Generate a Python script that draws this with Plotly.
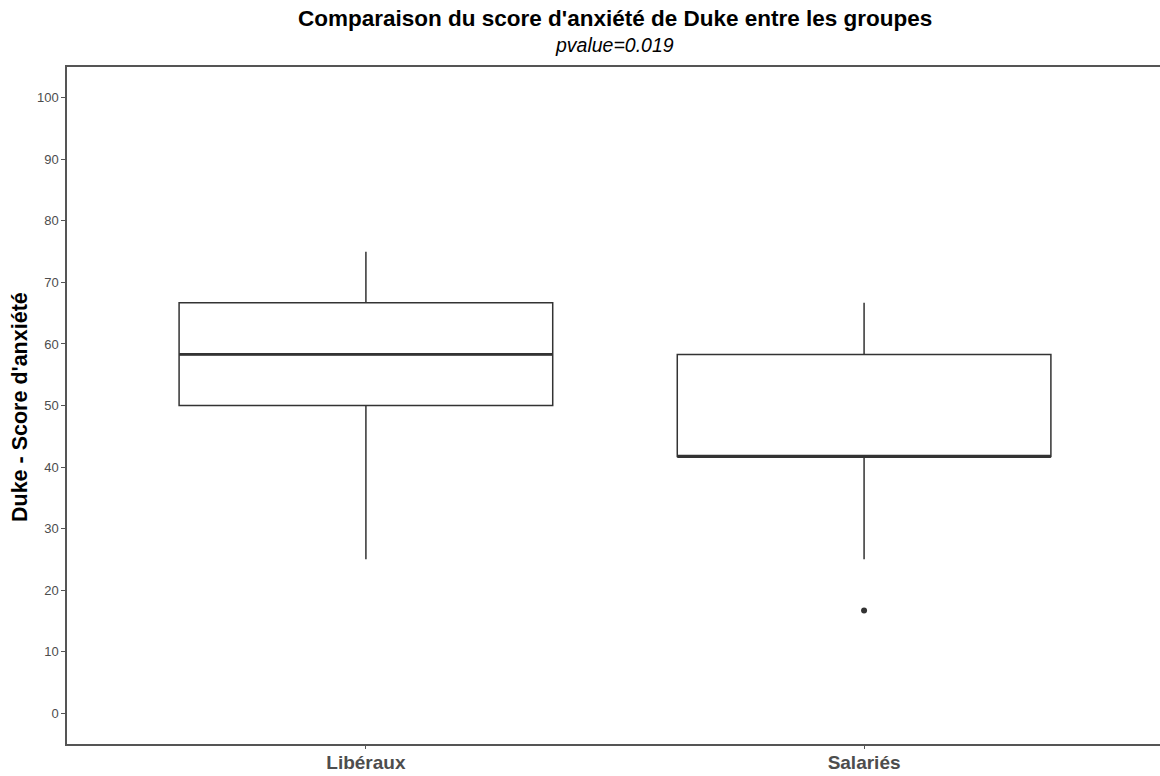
import plotly.graph_objects as go

# Group summary statistics (Duke anxiety score)
groups = ["Libéraux", "Salariés"]
lower_whisker = [25.0, 25.0]
q1 = [50.0, 41.7]
median = [58.3, 41.7]
q3 = [66.7, 58.3]
upper_whisker = [75.0, 66.7]
outlier_group = [1]
outlier_value = [16.7]

y_ticks = list(range(0, 101, 10))

box_width = 0.75
line_col = "#333333"
positions = list(range(len(groups)))

W, H = 1160, 776
ML, MR, MT, MB = 67, 0, 67, 32

fig = go.Figure()

for i, g in enumerate(groups):
    fig.add_trace(go.Box(
        x=[positions[i]],
        q1=[q1[i]], median=[median[i]], q3=[q3[i]],
        lowerfence=[lower_whisker[i]], upperfence=[upper_whisker[i]],
        width=box_width,
        whiskerwidth=0,
        fillcolor="white",
        line=dict(color=line_col, width=1.5),
        boxpoints=False,
        name=g,
        showlegend=False,
        hoverinfo="skip",
    ))
    # thicker median bar
    fig.add_trace(go.Scatter(
        x=[positions[i] - box_width / 2, positions[i] + box_width / 2],
        y=[median[i], median[i]],
        mode="lines",
        line=dict(color=line_col, width=2.8),
        showlegend=False,
        hoverinfo="skip",
    ))

fig.add_trace(go.Scatter(
    x=outlier_group, y=outlier_value,
    mode="markers",
    marker=dict(color=line_col, size=6),
    showlegend=False,
    hoverinfo="skip",
))

fig.update_layout(
    width=W, height=H,
    paper_bgcolor="white", plot_bgcolor="white",
    margin=dict(l=ML, r=MR, t=MT, b=MB),
    font=dict(family="Liberation Sans, Arial, sans-serif"),
)

plot_h = H - MT - MB
plot_w = W - ML - MR
def px_to_paper_x(px):
    return (px - ML) / plot_w
def px_to_paper_y(py):
    return (H - MB - py) / plot_h

fig.add_annotation(
    text="<b>Comparaison du score d'anxiété de Duke entre les groupes</b>",
    x=px_to_paper_x(615), y=px_to_paper_y(19), xref="paper", yref="paper",
    showarrow=False, xanchor="center", yanchor="middle",
    font=dict(size=22.5, color="black"),
)
fig.add_annotation(
    text="<i>pvalue=0.019</i>",
    x=px_to_paper_x(614), y=px_to_paper_y(45), xref="paper", yref="paper",
    showarrow=False, xanchor="center", yanchor="middle",
    font=dict(size=19.5, color="black"),
)
fig.add_annotation(
    text="<b>Duke - Score d'anxiété</b>",
    x=px_to_paper_x(20), y=px_to_paper_y(407), xref="paper", yref="paper",
    showarrow=False, xanchor="center", yanchor="middle", textangle=-90,
    font=dict(size=21.5, color="black"),
)

fig.update_xaxes(
    range=[-0.6, 1.594],
    tickmode="array", tickvals=positions,
    ticktext=[f"<b>{g}</b>" for g in groups],
    tickfont=dict(size=19, color="#4d4d4d"),
    ticklabelstandoff=-3,
    showline=True, linecolor="#555555", linewidth=1.5, mirror=True,
    ticks="outside", ticklen=3, tickcolor="#555555",
    showgrid=False, zeroline=False,
)
fig.update_yaxes(
    range=[-5, 105],
    tickmode="array", tickvals=y_ticks,
    tickfont=dict(size=13, color="#4d4d4d"),
    showline=True, linecolor="#555555", linewidth=1.5,
    ticks="outside", ticklen=4, tickcolor="#555555",
    showgrid=False, zeroline=False,
)

fig.write_html("out.html")
